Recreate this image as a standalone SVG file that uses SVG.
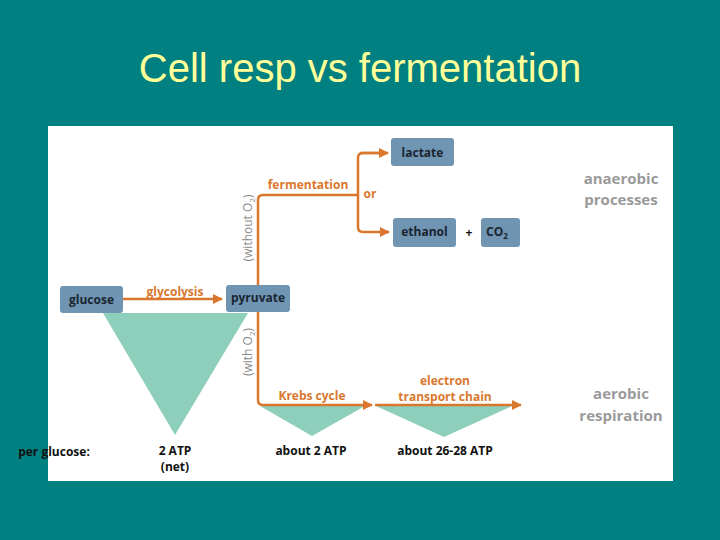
<svg xmlns="http://www.w3.org/2000/svg" width="720" height="540" viewBox="0 0 720 540">
<defs>
<marker id="ah" viewBox="0 0 10 10" refX="9" refY="5" markerWidth="4" markerHeight="4" orient="auto"><path d="M0,0L10,5L0,10z" fill="#d9782d"/></marker>
<style>
.box{fill:#6f95b3}
.bt{font-family:"Open Sans","DejaVu Sans",sans-serif;font-weight:bold;font-size:12px;fill:#1a2530;text-anchor:middle}
.ot{font-family:"Open Sans","DejaVu Sans",sans-serif;font-weight:bold;font-size:12px;fill:#d9782d;text-anchor:middle}
.kt{font-family:"Open Sans","DejaVu Sans",sans-serif;font-weight:bold;font-size:12px;fill:#111;text-anchor:middle}
.gt{font-family:"Open Sans","DejaVu Sans",sans-serif;font-weight:bold;font-size:15px;fill:#9a9a9a;text-anchor:middle}
.vt{font-family:"Open Sans","DejaVu Sans",sans-serif;font-size:12px;fill:#8a8a8a;text-anchor:middle}
.ln{fill:none;stroke:#d9782d;stroke-width:2.5}
.tri{fill:#8ecfbc}
</style>
</defs>
<rect width="720" height="540" fill="#008080"/>
<text x="360" y="82" font-family="Liberation Sans,Arial,sans-serif" font-size="40" fill="#ffff99" text-anchor="middle">Cell resp vs fermentation</text>
<rect x="48" y="126" width="625" height="355" fill="#fff"/>
<g id="triangles">
<path class="tri" d="M103,313L248,313L175,435z"/>
<path class="tri" d="M260,406L365,406L312,436z"/>
<path class="tri" d="M376,406L512,406L444,437z"/>
</g>
<g id="connectors">
<path class="ln" d="M123,299H222" marker-end="url(#ah)"/>
<path class="ln" d="M258,285V200Q258,195 263,195H358"/>
<path class="ln" d="M258,312V400Q258,405 263,405H372" marker-end="url(#ah)"/>
<path class="ln" d="M375,405H521" marker-end="url(#ah)"/>
<path class="ln" d="M386,153H363Q358,153 358,158V227Q358,232 363,232H389" marker-end="url(#ah)"/>
<path class="ln" d="M360,153H388" marker-end="url(#ah)"/>
</g>
<g id="glucose"><rect class="box" x="60" y="286" width="63" height="27" rx="3"/><text class="bt" x="91.5" y="304">glucose</text></g>
<g id="pyruvate"><rect class="box" x="226" y="285" width="64" height="27" rx="3"/><text class="bt" x="258" y="302">pyruvate</text></g>
<g id="lactate"><rect class="box" x="391" y="138" width="63" height="28" rx="3"/><text class="bt" x="422.5" y="157">lactate</text></g>
<g id="ethanol"><rect class="box" x="393" y="218" width="63" height="29" rx="3"/><text class="bt" x="424.5" y="236">ethanol</text></g>
<g id="co2"><rect class="box" x="481" y="218" width="39" height="29" rx="3"/><text class="bt" x="497" y="236">CO<tspan font-size="8" dy="3">2</tspan></text></g>
<g id="labels">
<text class="ot" x="175" y="296">glycolysis</text>
<text class="ot" x="308" y="189">fermentation</text>
<text class="ot" x="370" y="198">or</text>
<text class="kt" x="469" y="237" font-weight="normal">+</text>
<text class="ot" x="312" y="400">Krebs cycle</text>
<text class="ot" x="445" y="385">electron</text>
<text class="ot" x="445" y="401">transport chain</text>
<text class="vt" transform="translate(252,228) rotate(-90)">(without O<tspan font-size="8" dy="3">2</tspan><tspan dy="-3">)</tspan></text>
<text class="vt" transform="translate(252,352) rotate(-90)">(with O<tspan font-size="8" dy="3">2</tspan><tspan dy="-3">)</tspan></text>
<text class="kt" x="54" y="456" text-anchor="start">per glucose:</text>
<text class="kt" x="175" y="455">2 ATP</text>
<text class="kt" x="175" y="471">(net)</text>
<text class="kt" x="311" y="455">about 2 ATP</text>
<text class="kt" x="445" y="455">about 26-28 ATP</text>
<text class="gt" x="621" y="184">anaerobic</text>
<text class="gt" x="621" y="205">processes</text>
<text class="gt" x="621" y="399">aerobic</text>
<text class="gt" x="621" y="421">respiration</text>
</g>
</svg>
